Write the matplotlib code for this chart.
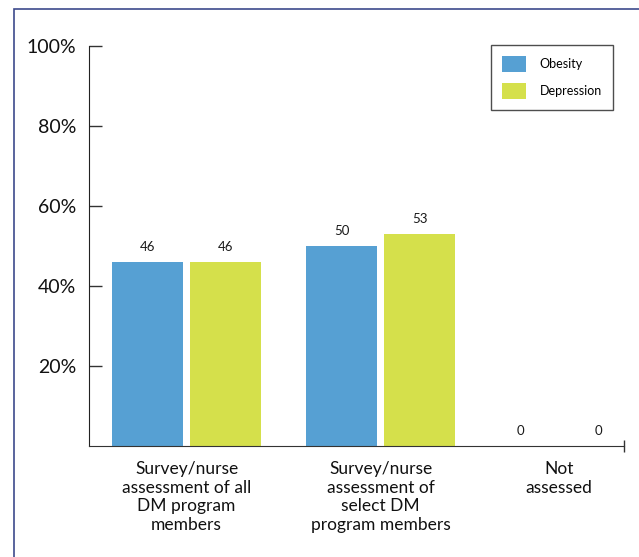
import numpy as np
import matplotlib.pyplot as plt
from matplotlib.patches import Rectangle

plt.rcParams['font.family'] = ['Lato', 'DejaVu Sans']

categories = ['Survey/nurse\nassessment of all\nDM program\nmembers',
              'Survey/nurse\nassessment of\nselect DM\nprogram members',
              'Not\nassessed']
obesity = [46, 50, 0]
depression = [46, 53, 0]
series_names = ['Obesity', 'Depression']
yticks = [20, 40, 60, 80, 100]

blue = '#56a0d3'
green = '#d5e04b'

fig = plt.figure(figsize=(6.39, 5.57), dpi=100)
ax = fig.add_axes([0.1393, 0.1993, 0.8372, 0.7181])

# last group sits a bit closer to the middle one
x = np.array([0, 1, 1.92])
w = 0.366
off = 0.201

b1 = ax.bar(x - off, obesity, w, color=blue, label=series_names[0])
b2 = ax.bar(x + off, depression, w, color=green, label=series_names[1])

for bars, vals in ((b1, obesity), (b2, depression)):
    for b, v in zip(bars, vals):
        ax.text(b.get_x() + b.get_width() / 2, v + 2.3, str(v),
                ha='center', va='bottom', fontsize=9.5, color='#1a1a1a')

ax.set_xlim(-0.503, 2.255)
ax.set_ylim(0, 100)
ax.set_yticks(yticks)
ax.set_yticklabels([f'{t}%' for t in yticks], fontsize=14, color='#111111')
ax.tick_params(axis='y', direction='in', length=9.5, width=1, color='#333333', pad=9)
ax.set_xticks(x)
ax.set_xticklabels(categories, fontsize=12.5, color='#111111', linespacing=1.2)
ax.tick_params(axis='x', length=0, pad=11)

for s in ('top', 'right'):
    ax.spines[s].set_visible(False)
ax.spines['left'].set_color('#222222')
ax.spines['bottom'].set_color('#333333')
ax.plot([1], [0], transform=ax.transAxes, marker='|', markersize=8, color='#333333', clip_on=False)

leg = ax.legend(loc='upper right', bbox_to_anchor=(0.98, 1.003), fontsize=9,
                frameon=True, fancybox=False, edgecolor='#222222',
                handlelength=1.9, handleheight=1.6, labelspacing=0.85,
                borderpad=0.9, handletextpad=1.1, borderaxespad=0)
leg.get_frame().set_linewidth(1)

# page frame on left and top
fig.add_artist(Rectangle((14 / 639, -0.1), 1.2, 1 - 9 / 557 + 0.1,
                         transform=fig.transFigure, fill=False,
                         edgecolor='#3d4a8c', linewidth=1.2))

fig.savefig('out.png', dpi=100)
